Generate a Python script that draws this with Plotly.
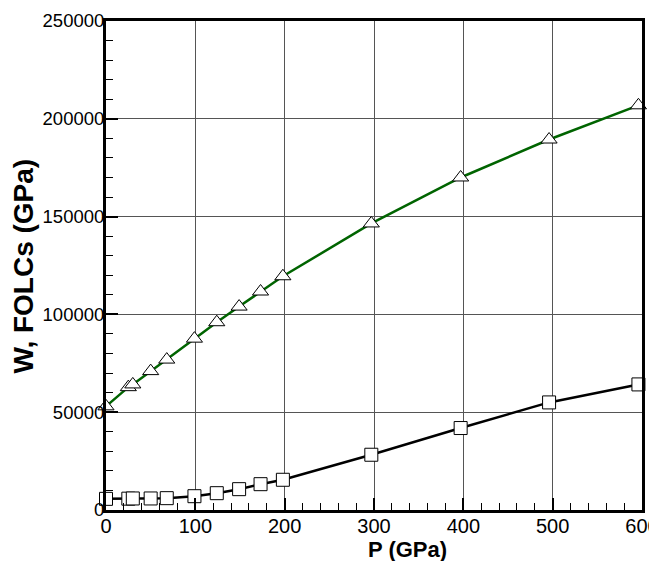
import plotly.graph_objects as go

# Data
p_gpa = [0, 25, 30, 50, 68, 99, 124, 149, 173, 198, 297, 397, 496, 596]
w_values = [53000, 62800, 64200, 71000, 76900, 87600, 96000, 104000, 111700, 119500,
            146500, 170000, 189400, 206900]
folcs_values = [5700, 5800, 5900, 5900, 6050, 7060, 8600, 10650, 13200, 15450,
                28250, 41900, 55000, 64200]

x_ticks = [0, 100, 200, 300, 400, 500, 600]
y_ticks = [0, 50000, 100000, 150000, 200000, 250000]

FONT = "Liberation Sans, Arial, Helvetica, sans-serif"

fig = go.Figure()

fig.add_trace(go.Scatter(
    x=p_gpa, y=w_values, mode="lines+markers",
    line=dict(color="#006400", width=2.5),
    marker=dict(symbol="triangle-up", size=14, color="white",
                line=dict(color="black", width=1)),
    cliponaxis=False, showlegend=False,
))
fig.add_trace(go.Scatter(
    x=p_gpa, y=folcs_values, mode="lines+markers",
    line=dict(color="black", width=2.5),
    marker=dict(symbol="square", size=13, color="white",
                line=dict(color="black", width=1)),
    cliponaxis=False, showlegend=False,
))

axis_common = dict(
    showline=True, linecolor="black", linewidth=3, mirror=True,
    ticks="inside", ticklen=12, tickwidth=2, tickcolor="black",
    showgrid=True, gridcolor="#555555", gridwidth=1,
    zeroline=False, ticklabeloverflow="allow", automargin=False,
)

fig.update_xaxes(
    range=[0, 600], tickvals=x_ticks, ticktext=[str(v) for v in x_ticks],
    tickfont=dict(family=FONT, size=20, color="black"),
    ticklabelstandoff=-4,
    minor=dict(dtick=20, ticks="inside", ticklen=7, tickwidth=1, tickcolor="black", showgrid=False),
    **axis_common,
)
fig.update_yaxes(
    range=[0, 250000], tickvals=y_ticks, ticktext=[str(v) for v in y_ticks],
    tickfont=dict(family=FONT, size=18.5, color="black"),
    ticklabelstandoff=-5,
    minor=dict(dtick=10000, ticks="inside", ticklen=7, tickwidth=1, tickcolor="black", showgrid=False),
    **axis_common,
)

fig.add_annotation(
    text="<b>P (GPa)</b>", xref="paper", yref="paper", x=0.563, y=-0.08,
    xanchor="center", yanchor="middle", showarrow=False,
    font=dict(family=FONT, size=22, color="black"),
)
fig.add_annotation(
    text="<b>W, FOLCs (GPa)</b>", xref="paper", yref="paper", x=-0.153, y=0.5,
    xanchor="center", yanchor="middle", showarrow=False, textangle=-90,
    font=dict(family=FONT, size=28, color="black"),
)

# The page body adds an ~8px offset, so the figure is sized to fit the window.
fig.update_layout(
    width=649, height=553,
    margin=dict(l=98, r=15, t=13, b=51, autoexpand=False),
    paper_bgcolor="white", plot_bgcolor="white",
    font=dict(family=FONT, color="black"),
)

fig.write_html("out.html")
